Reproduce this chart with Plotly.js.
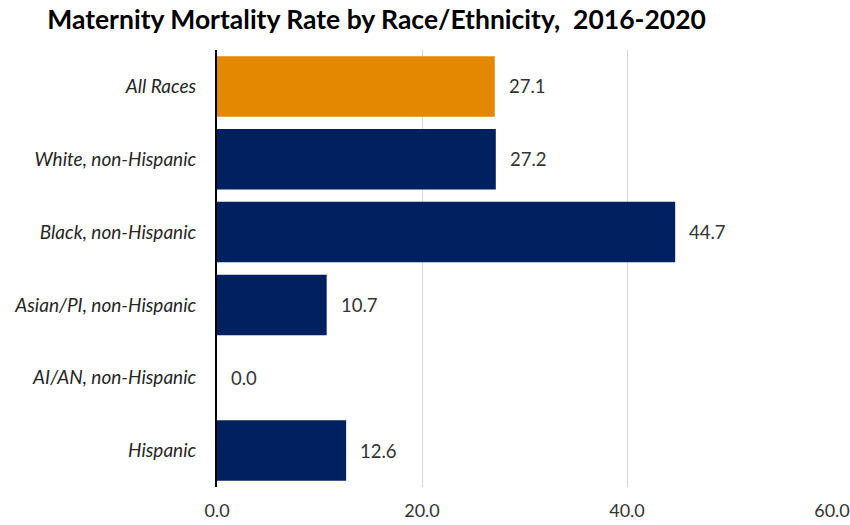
<!DOCTYPE html>
<html>
<head>
<meta charset="utf-8">
<script src="https://cdn.plot.ly/plotly-3.0.1.min.js"></script>
<style>
  html, body { margin: 0; padding: 0; background: #ffffff; }
  #chart { width: 850px; height: 525px; }
</style>
</head>
<body>
<div id="chart"></div>
<script>
// Maternal mortality rate per group, 2016-2020
const groups = ["All Races", "White, non-Hispanic", "Black, non-Hispanic",
                "Asian/PI, non-Hispanic", "AI/AN, non-Hispanic", "Hispanic"];
const rates = [27.1, 27.2, 44.7, 10.7, 0.0, 12.6];
const barColors = ["#E38800", "#002060", "#002060", "#002060", "#002060", "#002060"];
const xTicks = [0, 20, 40, 60];

const fontFamily = "Lato, 'Open Sans', 'Liberation Sans', sans-serif";

const trace = {
  type: "bar",
  orientation: "h",
  y: groups,
  x: rates,
  marker: { color: barColors, line: { width: 0 } },
  hoverinfo: "skip"
};

// value labels placed just beyond each bar end
const valueLabels = groups.map((g, i) => ({
  x: rates[i],
  y: g,
  xref: "x",
  yref: "y",
  text: rates[i].toFixed(1),
  showarrow: false,
  xanchor: "left",
  xshift: 12,
  font: { family: fontFamily, size: 18.5, color: "#333333" }
}));

const layout = {
  width: 850,
  height: 525,
  paper_bgcolor: "#ffffff",
  plot_bgcolor: "#ffffff",
  margin: { l: 217, r: 18, t: 50, b: 38 },
  showlegend: false,
  bargap: 0.17,
  title: {
    text: "<b>Maternity Mortality Rate by Race/Ethnicity,  2016-2020</b>",
    font: { family: fontFamily, size: 26.5, color: "#000000" },
    x: 0.443,
    xanchor: "center",
    y: 0.962,
    yanchor: "middle"
  },
  xaxis: {
    range: [0, 60],
    tickvals: xTicks,
    ticktext: xTicks.map(v => v.toFixed(1)),
    showgrid: true,
    gridcolor: "#D9D9D9",
    gridwidth: 1,
    zeroline: false,
    showline: false,
    ticks: "",
    ticklabelstandoff: 11,
    tickfont: { family: fontFamily, size: 18, color: "#333333" },
    automargin: false,
    fixedrange: true
  },
  yaxis: {
    categoryorder: "array",
    categoryarray: groups,
    autorange: "reversed",
    showline: true,
    linecolor: "#000000",
    linewidth: 2,
    showgrid: false,
    zeroline: false,
    ticks: "",
    ticklabelstandoff: 15,
    tickfont: { family: fontFamily, size: 19, color: "#262626", style: "italic" },
    fixedrange: true
  },
  annotations: valueLabels
};

Plotly.newPlot("chart", [trace], layout, { displayModeBar: false, staticPlot: true });
</script>
</body>
</html>
